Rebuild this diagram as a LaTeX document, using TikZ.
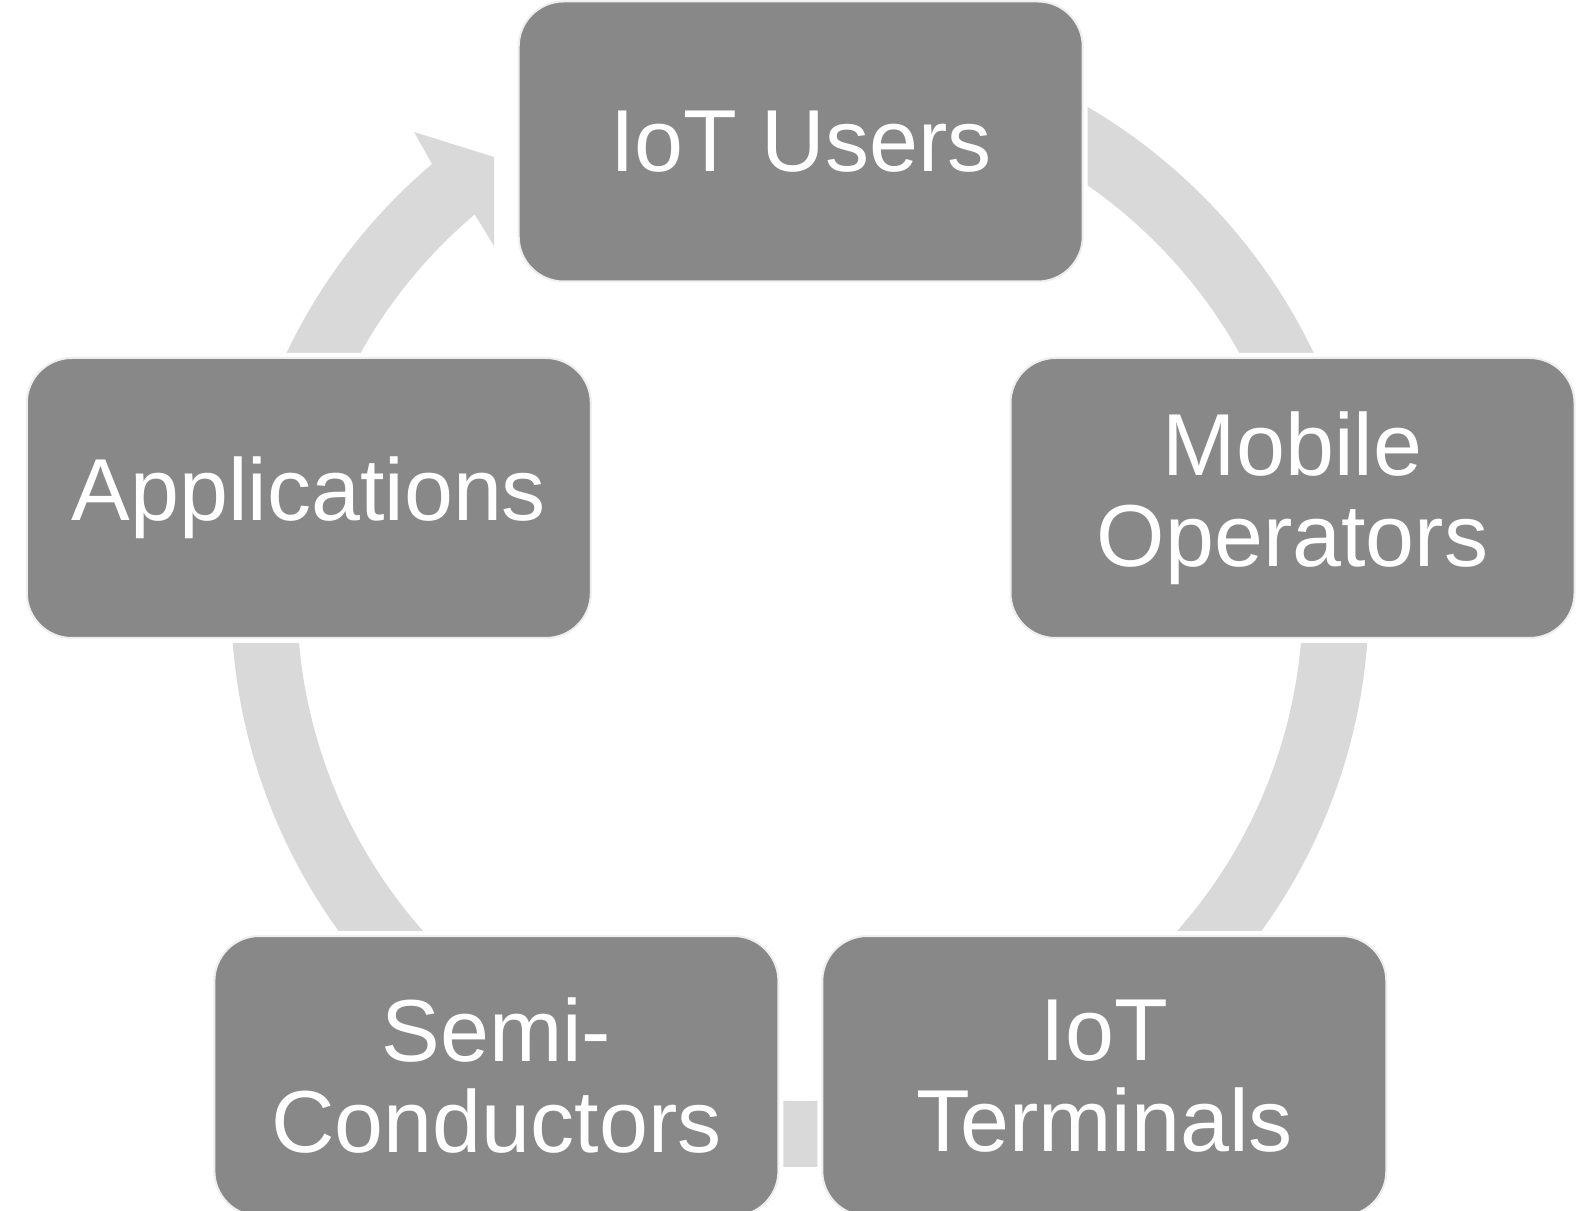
\documentclass[tikz,border=0pt]{standalone}
\usepackage{fontspec}
\setmainfont{Liberation Sans}
\definecolor{boxgray}{HTML}{888888}
\definecolor{ringgray}{HTML}{D9D9D9}
\definecolor{edgegray}{HTML}{EEEEEE}
\begin{document}
\begin{tikzpicture}[x=0.5pt,y=0.5pt,
  cyclebox/.style={rectangle, rounded corners=22.5pt, fill=boxgray, draw=edgegray,
    line width=1pt, preaction={draw=white, line width=5pt},
    inner sep=0pt, minimum width=282pt, minimum height=140pt,
    text=white, align=center, font=\fontsize{44}{45.5}\selectfont},
  ring/.style={fill=ringgray}]
\useasboundingbox (0,0) rectangle (1588,1210);
\clip (0,0) rectangle (1588,1210);
% continuous ring with arrowhead
\fill[ring] ([shift={(800,612)}]90:284.5pt)
  arc[start angle=90, end angle=-229.7, radius=284.5pt]
  -- (414,1078) -- (494,1053) -- (494,964)
  -- ([shift={(800,612)}]130.3:251.5pt)
  arc[start angle=-229.7, end angle=90, radius=251.5pt] -- cycle;
% nodes
\node[cyclebox] (users) at (800.7,1068.5) {IoT Users};
\node[cyclebox] (mobile) at (1292.5,712) {Mobile\\Operators};
\node[cyclebox] (terminals) at (1104.3,134) {IoT\\Terminals};
\node[cyclebox] (semi) at (496.4,134) {Semi-\\Conductors};
\node[cyclebox] (apps) at (308.8,712) {Applications};
\end{tikzpicture}
\end{document}
